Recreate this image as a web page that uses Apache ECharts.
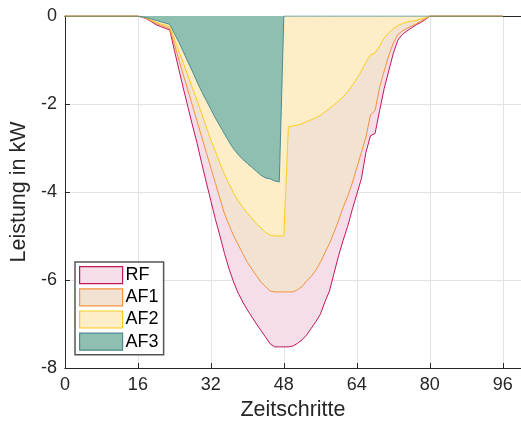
<!DOCTYPE html>
<html><head><meta charset="utf-8">
<script src="https://cdn.jsdelivr.net/npm/echarts@6/dist/echarts.min.js"></script>
<style>html,body{margin:0;padding:0;background:#fff}#c{width:521px;height:427px}</style>
</head><body><div id="c"></div>
<script>
// time steps 0..96
const steps = Array.from({length: 97}, (_, i) => i);
const zeros17 = [0,0,0,0,0,0,0,0,0,0,0,0,0,0,0,0,0]; // t = 0..16
const tail16 = [0,0,0,0,0,0,0,0,0,0,0,0,0,0,0,0];     // t = 81..96

// t = 17..80
const rfCore = [-0.03,-0.07,-0.13,-0.2,-0.24,-0.28,-0.32,
  -0.78,-1.22,-1.66,-2.08,-2.5,-2.9,-3.35,-3.78,-4.2,-4.62,-5.0,-5.4,-5.75,-6.05,-6.3,-6.5,-6.68,-6.84,-7.0,-7.15,-7.3,-7.45,-7.52,-7.52,-7.52,-7.52,
  -7.5,-7.44,-7.36,-7.25,-7.1,-6.95,-6.78,-6.5,-6.25,-5.85,-5.45,-5.1,-4.78,-4.4,-4.05,-3.7,-3.1,-2.72,-2.67,-2.15,-1.65,-1.25,-0.85,-0.55,-0.42,-0.34,-0.27,-0.2,-0.15,-0.08,0];
const af1Core = [-0.03,-0.06,-0.11,-0.17,-0.21,-0.25,-0.29,
  -0.64,-1.0,-1.35,-1.7,-2.05,-2.4,-2.75,-3.1,-3.45,-3.8,-4.15,-4.5,-4.75,-5.0,-5.2,-5.4,-5.6,-5.75,-5.9,-6.05,-6.15,-6.25,-6.27,-6.27,-6.27,-6.27,
  -6.27,-6.22,-6.15,-6.02,-5.92,-5.78,-5.6,-5.38,-5.17,-4.92,-4.65,-4.35,-4.1,-3.8,-3.45,-3.1,-2.75,-2.25,-2.15,-1.62,-1.25,-0.9,-0.62,-0.42,-0.34,-0.28,-0.23,-0.18,-0.12,-0.06,0];
const af2Core = [-0.02,-0.05,-0.1,-0.14,-0.18,-0.21,-0.24,
  -0.52,-0.8,-1.08,-1.36,-1.65,-1.93,-2.22,-2.52,-2.82,-3.08,-3.35,-3.6,-3.82,-4.03,-4.2,-4.35,-4.48,-4.6,-4.72,-4.82,-4.92,-4.98,-5.0,-5.0,-5.0,-2.52,
  -2.5,-2.48,-2.45,-2.4,-2.36,-2.31,-2.26,-2.18,-2.1,-2.02,-1.93,-1.84,-1.72,-1.58,-1.42,-1.25,-1.05,-0.88,-0.84,-0.68,-0.5,-0.38,-0.29,-0.22,-0.17,-0.14,-0.12,-0.1,-0.07,-0.04,0];
const af3Core = [-0.02,-0.04,-0.07,-0.1,-0.13,-0.16,-0.19,
  -0.4,-0.6,-0.82,-1.05,-1.27,-1.5,-1.72,-1.92,-2.12,-2.32,-2.5,-2.68,-2.86,-3.02,-3.15,-3.26,-3.35,-3.44,-3.53,-3.62,-3.68,-3.7,-3.75,-3.77,0,0,
  0,0,0,0,0,0,0,0,0,0,0,0,0,0,0,0,0,0,0,0,0,0,0,0,0,0,0,0,0,0,0,0,0];

const RF  = zeros17.concat(rfCore, tail16);
const AF1 = zeros17.concat(af1Core, tail16);
const AF2 = zeros17.concat(af2Core, tail16);
const AF3 = zeros17.concat(af3Core, tail16);

const names = ['RF','AF1','AF2','AF3'];
const values = [RF, AF1, AF2, AF3];
const xTicks = [0,16,32,48,64,80,96];
const yTicks = [0,-2,-4,-6,-8];

const fills = ['#f5dde9','#f2e2d1','#fdeec8','#8fbfb1'];
const lines = ['#c0185a','#f4923a','#fccc1c','#4b8b93'];
const font = 'Liberation Sans';
const txt = '#262626';

const chart = echarts.init(document.getElementById('c'), null, {renderer:'canvas'});
chart.setOption({
  animation:false,
  textStyle:{fontFamily:font},
  grid:{left:63, top:16, right:-3, bottom:59, containLabel:false},
  xAxis:[{
    type:'value', min:0, max:100, interval:16,
    name:'Zeitschritte', nameLocation:'middle', nameGap:31,
    nameTextStyle:{fontSize:21.5, color:txt, fontFamily:font},
    axisLine:{show:true, onZero:false, lineStyle:{color:txt, width:1}},
    axisTick:{show:true, inside:true, length:5, lineStyle:{color:txt}, customValues:xTicks},
    axisLabel:{fontSize:18, color:txt, fontFamily:font, margin:8, customValues:xTicks},
    splitLine:{show:true, lineStyle:{color:'#e3e3e3', width:1}}
  },{
    type:'value', min:0, max:100, position:'top',
    axisLine:{show:true, onZero:false, lineStyle:{color:txt, width:1}},
    axisTick:{show:false}, axisLabel:{show:false}, splitLine:{show:false}
  }],
  yAxis:{
    type:'value', min:-8, max:0, interval:2,
    name:'Leistung in kW', nameLocation:'middle', nameGap:32, nameRotate:90,
    nameTextStyle:{fontSize:21.5, color:txt, fontFamily:font},
    axisLine:{show:true, onZero:false, lineStyle:{color:txt, width:1}},
    axisTick:{show:true, inside:true, length:5, lineStyle:{color:txt}},
    axisLabel:{fontSize:18, color:txt, fontFamily:font, margin:8},
    splitLine:{show:true, lineStyle:{color:'#e3e3e3', width:1}}
  },
  legend:{
    orient:'vertical', left:75, top:262,
    itemWidth:43, itemHeight:17, itemGap:4,
    padding:[4,5,4,4],
    borderColor:'#555', borderWidth:1.5, backgroundColor:'#fff',
    textStyle:{fontSize:18, lineHeight:17, color:'#000', fontFamily:font, padding:[0,0,0,-2]},
    data: names.map((n,i)=>({name:n, icon:'rect', itemStyle:{color:fills[i], borderColor:lines[i], borderWidth:1.2}}))
  },
  series: names.map((n,i)=>({
    name:n, type:'line', xAxisIndex:0,
    data: steps.map((t,k)=>[t, values[i][k]]),
    showSymbol:false, symbol:'none',
    lineStyle:{color:lines[i], width:1},
    itemStyle:{color:fills[i], borderColor:lines[i]},
    areaStyle:{color:fills[i], opacity:1, origin:0},
    z:2+i
  }))
});
</script></body></html>
